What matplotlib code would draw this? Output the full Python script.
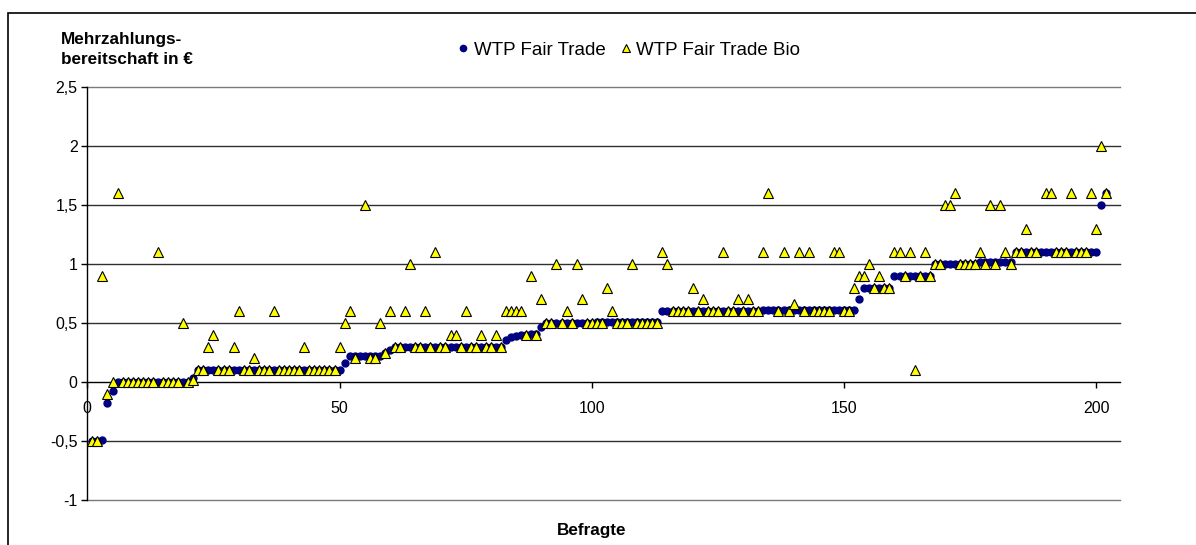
import numpy as np
import matplotlib
matplotlib.use("Agg")
import matplotlib.pyplot as plt
from matplotlib.patches import Rectangle

plt.rcParams['font.family'] = ['Liberation Sans', 'DejaVu Sans']

nan = np.nan

# WTP Fair Trade (sorted), respondents 1..202
wtp_fair_trade = (
    [-0.5, -0.5, -0.49, -0.18, -0.08]
    + [0.0] * 15
    + [0.03]
    + [0.1] * 29
    + [0.16]
    + [0.22] * 7
    + [0.25, 0.27]
    + [0.3] * 22
    + [0.36, 0.38, 0.39, 0.4, 0.4, 0.41, 0.41, 0.47]
    + [0.5] * 10
    + [0.51] * 13
    + [0.6] * 20
    + [0.61] * 19
    + [0.7]
    + [0.8] * 6
    + [0.9] * 8
    + [1.0] * 9
    + [1.02] * 7
    + [1.1] * 17
    + [1.5, 1.6]
)

# WTP Fair Trade Bio, respondents 1..202
wtp_fair_trade_bio = [
    -0.5, -0.5, 0.9, -0.1, 0.0, 1.6, 0.0, 0.0, 0.0, 0.0,          # 1-10
    0.0, 0.0, 0.0, 1.1, 0.0, 0.0, 0.0, 0.0, 0.5, 0.0,             # 11-20
    0.02, 0.1, 0.1, 0.3, 0.4, 0.1, 0.1, 0.1, 0.3, 0.6,            # 21-30
    0.1, 0.1, 0.2, 0.1, 0.1, 0.1, 0.6, 0.1, 0.1, 0.1,             # 31-40
    0.1, 0.1, 0.3, 0.1, 0.1, 0.1, 0.1, 0.1, 0.1, 0.3,             # 41-50
    0.5, 0.6, 0.2, nan, 1.5, 0.2, 0.2, 0.5, 0.25, 0.6,            # 51-60
    0.3, 0.3, 0.6, 1.0, 0.3, 0.3, 0.6, 0.3, 1.1, 0.3,             # 61-70
    0.3, 0.4, 0.4, 0.3, 0.6, 0.3, 0.3, 0.4, 0.3, 0.3,             # 71-80
    0.4, 0.3, 0.6, 0.6, 0.6, 0.6, 0.4, 0.9, 0.4, 0.7,             # 81-90
    0.5, 0.5, 1.0, 0.5, 0.6, 0.5, 1.0, 0.7, 0.5, 0.5,             # 91-100
    0.5, 0.5, 0.8, 0.6, 0.5, 0.5, 0.5, 1.0, 0.5, 0.5,             # 101-110
    0.5, 0.5, 0.5, 1.1, 1.0, 0.6, 0.6, 0.6, 0.6, 0.8,             # 111-120
    0.6, 0.7, 0.6, 0.6, 0.6, 1.1, 0.6, 0.6, 0.7, 0.6,             # 121-130
    0.7, 0.6, 0.6, 1.1, 1.6, nan, 0.6, 1.1, 0.6, 0.66,            # 131-140
    1.1, 0.6, 1.1, 0.6, 0.6, 0.6, 0.6, 1.1, 1.1, 0.6,             # 141-150
    0.6, 0.8, 0.9, 0.9, 1.0, 0.8, 0.9, 0.8, 0.8, 1.1,             # 151-160
    1.1, 0.9, 1.1, 0.1, 0.9, 1.1, 0.9, 1.0, 1.0, 1.5,             # 161-170
    1.5, 1.6, 1.0, 1.0, 1.0, 1.0, 1.1, 1.0, 1.5, 1.0,             # 171-180
    1.5, 1.1, 1.0, 1.1, 1.1, 1.3, 1.1, 1.1, nan, 1.6,             # 181-190
    1.6, 1.1, 1.1, 1.1, 1.6, 1.1, 1.1, 1.1, 1.6, 1.3,             # 191-200
    2.0, 1.6,                                                     # 201-202
]

respondents = np.arange(1, len(wtp_fair_trade) + 1)

y_ticks = [-1, -0.5, 0, 0.5, 1, 1.5, 2, 2.5]
y_tick_labels = ["-1", "-0,5", "0", "0,5", "1", "1,5", "2", "2,5"]
x_ticks = [0, 50, 100, 150, 200]
x_tick_labels = ["0", "50", "100", "150", "200"]

W, H = 1196, 545
fig = plt.figure(figsize=(W / 100, H / 100), dpi=100)
ax = fig.add_axes([87.3 / W, 1 - 500 / H, (1120 - 87.3) / W, (500 - 87) / H])

ax.set_xlim(0, 204.7)
ax.set_ylim(-1, 2.5)

for yv in y_ticks:
    if yv != 0:
        col = '#7a7a7a' if yv in (-1, 2.5) else '#303030'
        ax.axhline(yv, color=col, lw=1.0, zorder=1, clip_on=False)

ax.plot(respondents, wtp_fair_trade, linestyle='none', marker='o', ms=5,
        color='#000080', mec='#000080', zorder=3, label='WTP Fair Trade')
ax.plot(respondents, wtp_fair_trade_bio, linestyle='none', marker='^', ms=6.5,
        mfc='#FFFF00', mec='black', mew=0.8, zorder=4, label='WTP Fair Trade Bio')

for s in ['top', 'right']:
    ax.spines[s].set_visible(False)
ax.spines['bottom'].set_position(('data', 0))
ax.spines['bottom'].set_color('black')
ax.spines['bottom'].set_linewidth(1.0)
ax.spines['left'].set_color('black')
ax.spines['left'].set_linewidth(1.0)

ax.set_yticks(y_ticks)
ax.set_yticklabels(y_tick_labels, fontsize=11.5)
ax.set_xticks(x_ticks)
ax.set_xticklabels(x_tick_labels, fontsize=11.5)
ax.tick_params(axis='y', direction='out', length=4, width=1, pad=3)
ax.tick_params(axis='x', direction='out', length=4, width=1, pad=10)

fig.text(61 / W, 1 - 49.5 / H, "Mehrzahlungs-\nbereitschaft in €", fontsize=12.3,
         fontweight='bold', ha='left', va='center', linespacing=1.4)
fig.text(592 / W, 1 - 530 / H, "Befragte", fontsize=12.3, fontweight='bold',
         ha='center', va='center')

leg = fig.legend(loc='center', bbox_to_anchor=(627 / W, 1 - 50 / H), ncol=2,
                 frameon=False, fontsize=13.5, handletextpad=0.05,
                 columnspacing=0.6, handlelength=1.0, markerscale=0.9)

fig.add_artist(Rectangle((8 / W, -0.1), 1.2, (H - 13) / H + 0.1,
                         transform=fig.transFigure, fill=False,
                         edgecolor='black', lw=1.2))

fig.savefig("out.png", dpi=100)
